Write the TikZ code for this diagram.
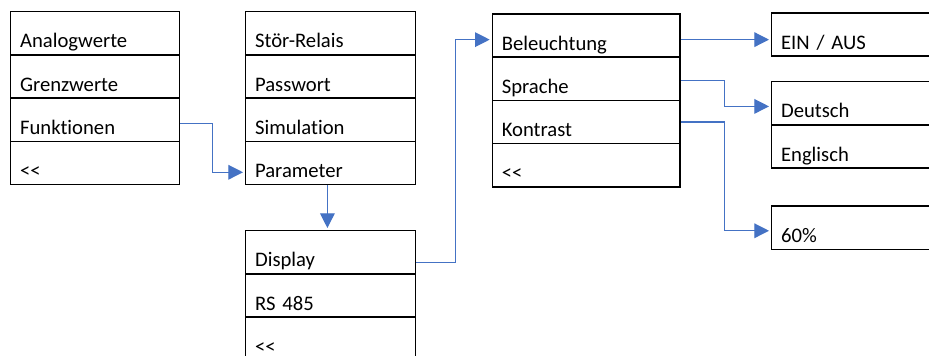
\documentclass[tikz,border=0pt]{standalone}
\usepackage{fontspec}
\setmainfont{Carlito}[Ligatures={NoCommon}]
\usetikzlibrary{arrows.meta}
\definecolor{connblue}{HTML}{4472C4}
\newcommand{\backsym}{<\kern0pt<}
\begin{document}
\begin{tikzpicture}[x=0.75pt,y=-0.75pt,
  row/.style={draw=black, line width=1.1pt, anchor=north west,
    inner xsep=7pt, inner ysep=0pt, text height=27.2pt, text depth=5.2pt,
    text width=#1, align=left, font=\fontsize{15.5pt}{18pt}\selectfont},
  conn/.style={draw=connblue, line width=0.9pt,
    -{Triangle[length=11pt,width=11pt]}, shorten >=1.5pt}]
\useasboundingbox (0,0) rectangle (929,356);
\clip (0,0) rectangle (929,356);
\fill[white] (0,0) rectangle (929,356);
% Box 1
\node[row=112.75pt] (a1) at (10,11) {Analogwerte};
\node[row=112.75pt] (a2) at (10,54.2) {Grenzwerte};
\node[row=112.75pt] (a3) at (10,97.4) {Funktionen};
\node[row=112.75pt] (a4) at (10,140.6) {\backsym};
% Box 2
\node[row=113.5pt] (b1) at (245,11) {Stör-Relais};
\node[row=113.5pt] (b2) at (245,54.2) {Passwort};
\node[row=113.5pt] (b3) at (245,97.4) {Simulation};
\node[row=113.5pt] (b4) at (245,140.6) {Parameter};
% Box 3
\node[row=113.5pt] (c1) at (245,230) {Display};
\node[row=113.5pt] (c2) at (245,273.2) {RS 485};
\node[row=113.5pt] (c3) at (245,316.4) {\backsym};
% Box 4
\node[row=126.7pt] (d1) at (491.7,13.3) {Beleuchtung};
\node[row=126.7pt] (d2) at (491.7,56.5) {Sprache};
\node[row=126.7pt] (d3) at (491.7,99.7) {Kontrast};
\node[row=126.7pt] (d4) at (491.7,142.9) {\backsym};
% Boxes 5-7
\node[row=120pt] (e1) at (771,12.3) {EIN / AUS};
\node[row=120pt] (f1) at (771,81) {Deutsch};
\node[row=120pt] (f2) at (771,124.2) {Englisch};
\node[row=120pt] (g1) at (771,205.5) {60\%};
% Connectors
\draw[conn] ([yshift=-2.8pt]a3.east) -- ++(31.7,0) |- ([yshift=-7pt]b4.west);
\draw[conn] ([xshift=-2.5pt]b4.south) -- ([xshift=-2.5pt]c1.north);
\draw[conn] ([yshift=-7.5pt]c1.east) -- ++(39.3,0) |- ([yshift=-3pt]d1.west);
\draw[conn] ([yshift=-3pt]d1.east) -- ([yshift=-3pt]d1.east -| e1.west);
\draw[conn] ([yshift=-1.5pt]d2.east) -- ++(44,0) |- ([yshift=-2.3pt]f1.west);
\draw[conn] (d3.east) -- ++(44,0) |- ([yshift=-2.2pt]g1.west);
\end{tikzpicture}
\end{document}
